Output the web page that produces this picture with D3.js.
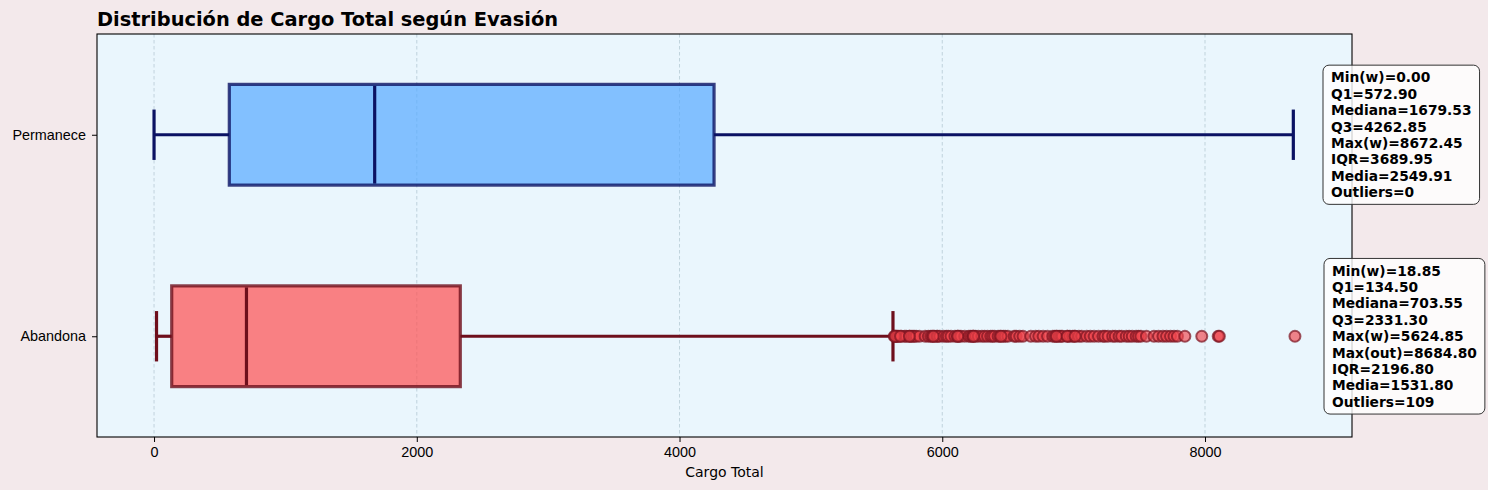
<!DOCTYPE html>
<html>
<head>
<meta charset="utf-8">
<title>Cargo Total</title>
<script src="https://cdn.jsdelivr.net/npm/d3@7"></script>
<style>
  body { margin: 0; background: #f3e9eb; }
  svg { display: block; font-family: "DejaVu Sans", sans-serif; }
  .tick text { font-size: 14.4px; fill: #000; }
  .tick line { stroke: #000; }
  .domain { display: none; }
  .grid line { stroke: #a9bfca; stroke-width: 0.8; stroke-dasharray: 3.5 2.5; stroke-opacity: 0.8; }
  text.title { font-size: 19.4px; font-weight: bold; }
  text.label { font-size: 14px; }
  text.stats { font-size: 13.8px; font-weight: bold; }
</style>
</head>
<body>
<svg width="1488" height="490"></svg>
<script>
// categories (position 1 = bottom, 2 = top)
const categories = ['Abandona', 'Permanece'];
const positions = [1, 2];
const minW = [18.85, 0.00];
const q1 = [134.50, 572.90];
const medians = [703.55, 1679.53];
const q3 = [2331.30, 4262.85];
const maxW = [5624.85, 8672.45];
const means = [1531.80, 2549.91];
const maxOut = [8684.80, null];

// outliers of "Abandona"
const outliersAbandona = [
  5634.5, 5645.1, 5650.7, 5658.4, 5669.2, 5688.5, 5714.2, 5725.5, 5749.8, 5762.9,
  5776.6, 5787.4, 5802.0, 5826.6, 5869.7, 5894.6, 5913.1, 5925.1, 5940.6, 5959.0,
  5965.3, 5981.7, 6010.9, 6031.3, 6045.9, 6066.8, 6096.9, 6115.6, 6126.9, 6141.7,
  6171.2, 6202.0, 6215.8, 6229.8, 6239.0, 6254.2, 6274.5, 6301.6, 6322.2, 6344.9,
  6368.9, 6383.2, 6398.1, 6425.3, 6440.4, 6464.6, 6479.4, 6500.0, 6547.7, 6562.9,
  6590.2, 6614.8, 6674.1, 6710.3, 6735.0, 6767.9, 6801.6, 6841.0, 6856.4, 6873.2,
  6889.8, 6903.9, 6914.0, 6953.4, 6971.3, 6993.5, 7007.5, 7039.4, 7061.4, 7099.5,
  7126.7, 7156.2, 7189.2, 7222.6, 7238.1, 7262.5, 7297.3, 7317.1, 7346.4, 7365.7,
  7400.6, 7422.9, 7446.3, 7475.9, 7493.8, 7512.3, 7554.4, 7611.6, 7646.3, 7679.8,
  7707.4, 7737.5, 7764.3, 7790.3, 7847.0, 7975.4, 8100.4, 8109.4, 8684.8,
  5640.2, 5682.0, 5750.3, 5931.9, 6117.8, 6237.5, 6447.6, 6868.7, 6951.0, 7011.7
];
const outliers = [outliersAbandona, []];

const xTicks = [0, 2000, 4000, 6000, 8000];

const fills = ['#ff4f4f', '#55aaff'];
const edges = ['#6e0f1c', '#0b1263'];

const svg = d3.select('svg');
const plotL = 97, plotR = 1352, plotT = 34, plotB = 437;

const x = d3.scaleLinear().domain([-434.24, 9119.04]).range([plotL, plotR]);
const y = d3.scaleLinear().domain([0.5, 2.5]).range([plotB, plotT]);
const boxH = y(0) - y(0.5);   // box width 0.5
const capH = y(0) - y(0.25);

// background of plot
svg.append('rect')
  .attr('x', plotL).attr('y', plotT)
  .attr('width', plotR - plotL).attr('height', plotB - plotT)
  .attr('fill', '#eaf6fd');

// grid
svg.append('g').attr('class', 'grid')
  .selectAll('line').data(xTicks).join('line')
  .attr('x1', d => x(d)).attr('x2', d => x(d))
  .attr('y1', plotT).attr('y2', plotB);

// boxes
const groups = svg.append('g').selectAll('g')
  .data(categories.map((c, i) => i)).join('g');

groups.append('line') // lower whisker
  .attr('x1', i => x(minW[i])).attr('x2', i => x(q1[i]))
  .attr('y1', i => y(positions[i])).attr('y2', i => y(positions[i]))
  .attr('stroke', i => edges[i]).attr('stroke-width', 3.2);
groups.append('line') // upper whisker
  .attr('x1', i => x(q3[i])).attr('x2', i => x(maxW[i]))
  .attr('y1', i => y(positions[i])).attr('y2', i => y(positions[i]))
  .attr('stroke', i => edges[i]).attr('stroke-width', 3.2);
groups.selectAll('line.cap')
  .data(i => [[i, minW[i]], [i, maxW[i]]]).join('line')
  .attr('class', 'cap')
  .attr('x1', d => x(d[1])).attr('x2', d => x(d[1]))
  .attr('y1', d => y(positions[d[0]]) - capH / 2)
  .attr('y2', d => y(positions[d[0]]) + capH / 2)
  .attr('stroke', d => edges[d[0]]).attr('stroke-width', 3.2);

groups.append('rect')
  .attr('x', i => x(q1[i])).attr('width', i => x(q3[i]) - x(q1[i]))
  .attr('y', i => y(positions[i]) - boxH / 2).attr('height', boxH)
  .attr('fill', i => fills[i]).attr('fill-opacity', 0.7)
  .attr('stroke', i => edges[i]).attr('stroke-opacity', 0.8).attr('stroke-width', 3.2);

groups.append('line') // median
  .attr('x1', i => x(medians[i])).attr('x2', i => x(medians[i]))
  .attr('y1', i => y(positions[i]) - boxH / 2 + 1.5)
  .attr('y2', i => y(positions[i]) + boxH / 2 - 1.5)
  .attr('stroke', i => edges[i]).attr('stroke-width', 3.2);

groups.selectAll('circle')
  .data(i => outliers[i].map(v => [i, v])).join('circle')
  .attr('cx', d => x(d[1])).attr('cy', d => y(positions[d[0]]))
  .attr('r', 5.5)
  .attr('fill', '#f0434b').attr('fill-opacity', 0.65)
  .attr('stroke', '#7a1421').attr('stroke-opacity', 0.7).attr('stroke-width', 2);

// frame
svg.append('rect')
  .attr('x', plotL).attr('y', plotT)
  .attr('width', plotR - plotL).attr('height', plotB - plotT)
  .attr('fill', 'none').attr('stroke', '#000').attr('stroke-width', 1.1);

// axes
svg.append('g')
  .attr('transform', `translate(0, ${plotB})`)
  .call(d3.axisBottom(x).tickValues(xTicks).tickFormat(d3.format('d')).tickSize(5).tickPadding(5));

svg.append('g')
  .attr('transform', `translate(${plotL}, 0)`)
  .call(d3.axisLeft(y).tickValues(positions).tickFormat((d, i) => categories[i]).tickSize(5).tickPadding(6));

svg.append('text').attr('class', 'label')
  .attr('x', (plotL + plotR) / 2).attr('y', 477)
  .attr('text-anchor', 'middle')
  .text('Cargo Total');

svg.append('text').attr('class', 'title')
  .attr('x', plotL).attr('y', 26)
  .text('Distribución de Cargo Total según Evasión');

// stats boxes
const lineH = 16.4;
categories.forEach((c, i) => {
  const lines = [
    `Min(w)=${minW[i].toFixed(2)}`,
    `Q1=${q1[i].toFixed(2)}`,
    `Mediana=${medians[i].toFixed(2)}`,
    `Q3=${q3[i].toFixed(2)}`,
    `Max(w)=${maxW[i].toFixed(2)}`
  ];
  if (outliers[i].length) lines.push(`Max(out)=${maxOut[i].toFixed(2)}`);
  lines.push(`IQR=${(q3[i] - q1[i]).toFixed(2)}`);
  lines.push(`Media=${means[i].toFixed(2)}`);
  lines.push(`Outliers=${outliers[i].length}`);

  const cy = y(positions[i]);
  const tx = plotR - 21 + (i === 0 ? 1 : 0);
  const g = svg.append('g');
  const box = g.append('rect');
  const t = g.append('text').attr('class', 'stats');
  lines.forEach((l, k) => {
    t.append('tspan')
      .attr('x', tx)
      .attr('y', cy + (k - (lines.length - 1) / 2) * lineH + 5)
      .text(l);
  });
  const w = t.node().getBBox().width;
  const h = lines.length * lineH + 8;
  box.attr('x', tx - 8).attr('y', cy - h / 2)
    .attr('width', w + 16).attr('height', h)
    .attr('rx', 6)
    .attr('fill', '#ffffff').attr('fill-opacity', 0.8)
    .attr('stroke', '#333').attr('stroke-width', 1);
});
</script>
</body>
</html>
